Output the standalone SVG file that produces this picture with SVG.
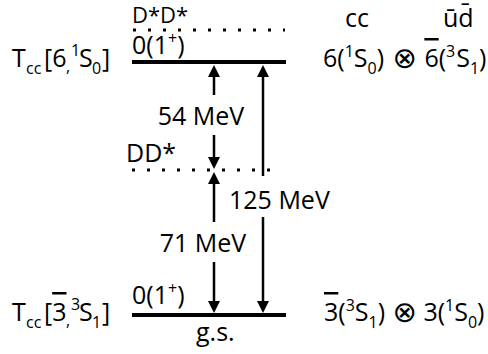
<svg xmlns="http://www.w3.org/2000/svg" width="488" height="354" viewBox="0 0 488 354">
<style>
text{font-family:"Open Sans","DejaVu Sans",sans-serif;font-size:25px;fill:#000}
.s{font-size:16px}
.ot{font-family:"DejaVu Sans",sans-serif;font-size:29px}
.ov{text-decoration:overline}
.lvl{stroke:#000;stroke-width:4;fill:none}
.dot{stroke:#000;stroke-width:3;stroke-dasharray:3 12;fill:none}
.arr{stroke:#000;stroke-width:2.5;fill:none;marker-end:url(#ah)}
</style>
<defs>
<marker id="ah" viewBox="0 0 12 12" refX="6" refY="6" markerWidth="12" markerHeight="12" markerUnits="userSpaceOnUse" orient="auto">
<path d="M0,0 L12,6 L0,12 z" fill="#000"/>
</marker>
</defs>
<g id="level-upper">
<line class="lvl" x1="132" y1="62" x2="286" y2="62"/>
<text x="132" y="54">0(1<tspan class="s" dy="-10">+</tspan><tspan dy="10">)</tspan></text>
<text x="12" y="67">T<tspan class="s" x="26" dy="7">cc</tspan><tspan x="44" dy="-7">[6</tspan><tspan class="s" x="66" dy="5">,</tspan><tspan class="s" x="71" dy="-16">1</tspan><tspan x="79" dy="11">S</tspan><tspan class="s" x="92" dy="7">0</tspan><tspan x="102" dy="-7">]</tspan></text>
<text x="323" y="67">6(<tspan class="s" dy="-10">1</tspan><tspan dy="10">S</tspan><tspan class="s" dy="7">0</tspan><tspan dy="-7">) </tspan><tspan class="ot" dx="2" dy="1">⊗</tspan><tspan dx="1" dy="-1"> </tspan><tspan class="ov">6</tspan>(<tspan class="s" dy="-10">3</tspan><tspan dx="1" dy="10">S</tspan><tspan class="s" dy="7">1</tspan><tspan dy="-7">)</tspan></text>
</g>
<g id="threshold-DstarDstar">
<line class="dot" x1="133" y1="30" x2="285" y2="30"/>
<text x="132" y="23" style="font-size:22px">D*D*</text>
</g>
<g id="threshold-DDstar">
<line class="dot" x1="132" y1="170" x2="280" y2="170"/>
<text x="126" y="162">DD*</text>
</g>
<g id="level-gs">
<line class="lvl" x1="132" y1="315" x2="286" y2="315"/>
<text x="132" y="304">0(1<tspan class="s" dy="-10">+</tspan><tspan dy="10">)</tspan></text>
<text x="196" y="341">g.s.</text>
<text x="12" y="321">T<tspan class="s" x="26" dy="7">cc</tspan><tspan x="44" dy="-7">[</tspan><tspan class="ov">3</tspan><tspan class="s" x="66" dy="5">,</tspan><tspan class="s" x="71" dy="-16">3</tspan><tspan x="79" dy="11">S</tspan><tspan class="s" x="92" dy="7">1</tspan><tspan x="102" dy="-7">]</tspan></text>
<text x="324" y="321"><tspan class="ov">3</tspan>(<tspan class="s" dy="-10">3</tspan><tspan dy="10">S</tspan><tspan class="s" dy="7">1</tspan><tspan dy="-7">) </tspan><tspan class="ot" dx="1" dy="1">⊗</tspan><tspan dy="-1"> 3(</tspan><tspan class="s" dy="-10">1</tspan><tspan dy="10">S</tspan><tspan class="s" dy="7">0</tspan><tspan dy="-7">)</tspan></text>
</g>
<g id="header">
<text x="345" y="27">cc</text>
<text x="443" y="27">ūd̄</text>
</g>
<g id="connectors">
<line class="arr" x1="214" y1="95" x2="214" y2="71"/>
<line class="arr" x1="214" y1="135" x2="214" y2="163"/>
<line class="arr" x1="214" y1="222" x2="214" y2="178"/>
<line class="arr" x1="214" y1="262" x2="214" y2="307"/>
<line class="arr" x1="263" y1="176" x2="263" y2="71"/>
<line class="arr" x1="263" y1="217" x2="263" y2="307"/>
</g>
<g id="labels">
<text x="201" y="125" text-anchor="middle">54 MeV</text>
<text x="203" y="252" text-anchor="middle">71 MeV</text>
<text x="229" y="209">125 MeV</text>
</g>
</svg>
